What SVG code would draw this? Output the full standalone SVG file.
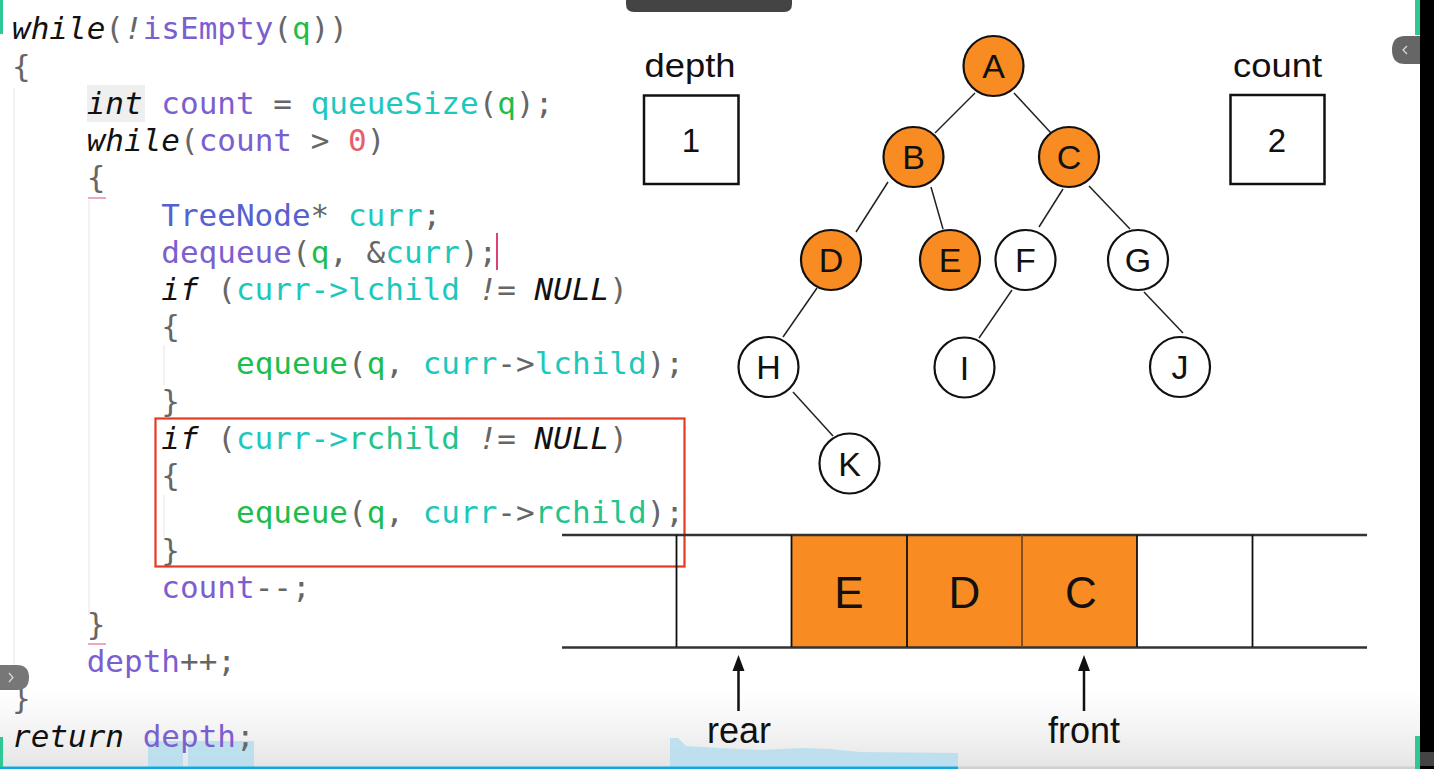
<svg xmlns="http://www.w3.org/2000/svg" width="1434" height="769" viewBox="0 0 1434 769">
<style>
.c{font-family:"DejaVu Sans Mono",monospace;font-size:31px;fill:#666;white-space:pre}
.k{fill:#111;font-style:italic}
.v{fill:#7b5fd0}
.t{fill:#1cc8bd}
.g{fill:#1dbd4c}
.r{fill:#e4606c}
.ty{fill:#5661d0}
.rc{fill:#22c48d}
.pi{font-style:italic}
.lbl{font-family:"Liberation Sans",Arial,sans-serif;fill:#111;text-anchor:middle}
.node circle{stroke:#111;stroke-width:2.2}
.node text{font-family:"Liberation Sans",Arial,sans-serif;font-size:34px;fill:#111;text-anchor:middle}
.or{fill:#f88b22}
.wh{fill:#fff}
.edge{stroke:#222;stroke-width:1.5;fill:none}
.guide{stroke:#e4e4e4;stroke-width:1}
</style>
<defs>
<linearGradient id="fade" x1="0" y1="0" x2="0" y2="1">
<stop offset="0" stop-color="#ececec" stop-opacity="0"/>
<stop offset="1" stop-color="#e4e4e4" stop-opacity="1"/>
</linearGradient>
</defs>
<rect width="1434" height="769" fill="#fff"/>

<!-- bottom video overlay (behind content) -->
<rect x="0" y="690" width="1420" height="79" fill="url(#fade)"/>
<g fill="#b9dfee" opacity="0.9">
<rect x="148" y="741" width="35" height="26"/>
<rect x="188" y="741" width="66" height="26"/>
<path d="M670,767 L670,738 L678,738 L686,746 L720,748 L760,750 L800,748 L830,749 L860,752 L958,753 L958,767 Z"/>
</g>
<rect x="0" y="766.5" width="958" height="2.5" fill="#12a8de"/>
<rect x="958" y="766.5" width="462" height="2.5" fill="#d0d0d0"/>

<!-- indent guides -->
<g id="guides">
<line class="guide" x1="14" y1="88" x2="14" y2="690"/>
<line class="guide" x1="89" y1="200" x2="89" y2="615"/>
<line class="guide" x1="164" y1="345" x2="164" y2="385"/>
<line class="guide" x1="164" y1="495" x2="164" y2="540"/>
</g>

<!-- code -->
<g id="code">
<rect x="87" y="85" width="58" height="37" fill="#efefef"/>
<text class="c" x="12" y="39.3"><tspan class="k">while</tspan>(<tspan class="pi">!</tspan><tspan class="v">isEmpty</tspan>(<tspan class="g">q</tspan>))</text>
<text class="c" x="12" y="76.5">{</text>
<text class="c" x="86.7" y="113.8"><tspan class="k">int</tspan> <tspan class="v">count</tspan> = <tspan class="t">queueSize</tspan>(<tspan class="g">q</tspan>);</text>
<text class="c" x="86.7" y="151"><tspan class="k">while</tspan>(<tspan class="v">count</tspan> &gt; <tspan class="r">0</tspan>)</text>
<text class="c" x="86.7" y="188.2">{</text>
<line x1="88" y1="198" x2="106" y2="198" stroke="#e48aa8" stroke-width="1.5"/>
<text class="c" x="161.3" y="225.5"><tspan class="ty">TreeNode</tspan>* <tspan class="t">curr</tspan>;</text>
<text class="c" x="161.3" y="262.7"><tspan class="v">dequeue</tspan>(<tspan class="g">q</tspan>, &amp;<tspan class="t">curr</tspan>);</text>
<line x1="497" y1="233" x2="497" y2="270" stroke="#e0407a" stroke-width="2"/>
<text class="c" x="161.3" y="299.9"><tspan class="k">if</tspan> (<tspan class="t">curr-&gt;lchild</tspan> <tspan class="pi">!=</tspan> <tspan class="k">NULL</tspan>)</text>
<text class="c" x="161.3" y="337.1">{</text>
<text class="c" x="236" y="374.4"><tspan class="g">equeue</tspan>(<tspan class="g">q</tspan>, <tspan class="t">curr</tspan>-&gt;<tspan class="t">lchild</tspan>);</text>
<text class="c" x="161.3" y="411.6">}</text>
<text class="c" x="161.3" y="448.8"><tspan class="k">if</tspan> (<tspan class="t">curr-&gt;</tspan><tspan class="rc">rchild</tspan> <tspan class="pi">!=</tspan> <tspan class="k">NULL</tspan>)</text>
<text class="c" x="161.3" y="486.1">{</text>
<text class="c" x="236" y="523.3"><tspan class="g">equeue</tspan>(<tspan class="g">q</tspan>, <tspan class="t">curr</tspan>-&gt;<tspan class="rc">rchild</tspan>);</text>
<text class="c" x="161.3" y="560.5">}</text>
<text class="c" x="161.3" y="597.8"><tspan class="v">count</tspan>--;</text>
<text class="c" x="86.7" y="635">}</text>
<line x1="88" y1="644" x2="106" y2="644" stroke="#e48aa8" stroke-width="1.5"/>
<text class="c" x="86.7" y="672.2"><tspan class="v">depth</tspan><tspan class="pi">++</tspan>;</text>
<text class="c" x="12" y="709.4">}</text>
<text class="c" x="12" y="746.7"><tspan class="k">return</tspan> <tspan class="v">depth</tspan>;</text>
</g>

<!-- highlight box -->
<rect id="highlight" x="155.5" y="418.5" width="529" height="148" fill="none" stroke="#e53a22" stroke-width="2.2"/>

<!-- depth / count -->
<g id="depth">
<text class="lbl" x="690" y="77" font-size="34" textLength="91" lengthAdjust="spacingAndGlyphs">depth</text>
<rect x="644" y="95.5" width="94.5" height="88.5" fill="#fff" stroke="#111" stroke-width="2.5"/>
<text class="lbl" x="691" y="152" font-size="33">1</text>
</g>
<g id="count">
<text class="lbl" x="1277.5" y="77" font-size="34" textLength="89" lengthAdjust="spacingAndGlyphs">count</text>
<rect x="1230.5" y="95" width="94" height="89" fill="#fff" stroke="#111" stroke-width="2.5"/>
<text class="lbl" x="1277" y="152" font-size="33">2</text>
</g>

<!-- tree connectors -->
<g id="edges">
<line class="edge" x1="975" y1="93" x2="935" y2="133"/>
<line class="edge" x1="1014" y1="93" x2="1051" y2="133"/>
<line class="edge" x1="888" y1="182" x2="856" y2="232"/>
<line class="edge" x1="931" y1="187" x2="943" y2="229"/>
<line class="edge" x1="1063" y1="189" x2="1039" y2="227"/>
<line class="edge" x1="1089" y1="186" x2="1130" y2="229"/>
<line class="edge" x1="817" y1="288" x2="783" y2="337"/>
<line class="edge" x1="1012" y1="290" x2="979" y2="338"/>
<line class="edge" x1="1144" y1="292" x2="1183" y2="333"/>
<line class="edge" x1="793" y1="392" x2="833" y2="436"/>
</g>

<!-- tree nodes -->
<g id="nA" class="node"><circle class="or" cx="993.5" cy="66" r="30"/><text x="993.5" y="78">A</text></g>
<g id="nB" class="node"><circle class="or" cx="913.5" cy="157" r="30"/><text x="913.5" y="169">B</text></g>
<g id="nC" class="node"><circle class="or" cx="1069" cy="157" r="30"/><text x="1069" y="169">C</text></g>
<g id="nD" class="node"><circle class="or" cx="831" cy="260" r="30"/><text x="831" y="272">D</text></g>
<g id="nE" class="node"><circle class="or" cx="950" cy="260" r="30"/><text x="950" y="272">E</text></g>
<g id="nF" class="node"><circle class="wh" cx="1025.5" cy="260" r="30"/><text x="1025.5" y="272">F</text></g>
<g id="nG" class="node"><circle class="wh" cx="1138" cy="260" r="30"/><text x="1138" y="272">G</text></g>
<g id="nH" class="node"><circle class="wh" cx="768.5" cy="367" r="30"/><text x="768.5" y="379">H</text></g>
<g id="nI" class="node"><circle class="wh" cx="964.5" cy="367.5" r="30"/><text x="964.5" y="379.5">I</text></g>
<g id="nJ" class="node"><circle class="wh" cx="1180" cy="367" r="30"/><text x="1180" y="379">J</text></g>
<g id="nK" class="node"><circle class="wh" cx="849.5" cy="463.5" r="30"/><text x="849.5" y="475.5">K</text></g>

<!-- queue -->
<g id="queue">
<rect x="791.5" y="535" width="345.5" height="112" fill="#f88b22"/>
<line x1="562" y1="535" x2="1367" y2="535" stroke="#333" stroke-width="2.5"/>
<line x1="562" y1="647.5" x2="1367" y2="647.5" stroke="#333" stroke-width="2.5"/>
<g stroke="#111" stroke-width="1.8">
<line x1="676.5" y1="535" x2="676.5" y2="647"/>
<line x1="791.5" y1="535" x2="791.5" y2="647"/>
<line x1="907" y1="535" x2="907" y2="647"/>
<line x1="1022" y1="535" x2="1022" y2="647" stroke="#7a4a1a"/>
<line x1="1137" y1="535" x2="1137" y2="647"/>
<line x1="1252.5" y1="535" x2="1252.5" y2="647"/>
</g>
<text class="lbl" x="849" y="607.5" font-size="44">E</text>
<text class="lbl" x="964.5" y="607.5" font-size="44">D</text>
<text class="lbl" x="1081" y="607.5" font-size="44">C</text>
</g>

<!-- pointers -->
<g id="rear">
<line x1="738.5" y1="711" x2="738.5" y2="668" stroke="#111" stroke-width="2.5"/>
<polygon points="738.5,655 732.5,671 744.5,671" fill="#111"/>
<text class="lbl" x="739" y="743" font-size="36">rear</text>
</g>
<g id="front">
<line x1="1084" y1="711" x2="1084" y2="668" stroke="#111" stroke-width="2.5"/>
<polygon points="1084,655 1078,671 1090,671" fill="#111"/>
<text class="lbl" x="1084" y="743" font-size="36">front</text>
</g>

<!-- player chrome -->
<path d="M626,0 H792 V4 Q792,12 784,12 H634 Q626,12 626,4 Z" fill="#444"/>
<rect x="0" y="0" width="3" height="34" fill="#2dc895"/>
<rect x="0" y="737" width="3" height="30" fill="#2dc895"/>
<path d="M0,665 H17 Q29,665 29,677.5 Q29,690 17,690 H0 Z" fill="#777"/>
<path d="M9,673 L13,677.5 L9,682" stroke="#ddd" stroke-width="1.2" fill="none"/>
<rect x="1420" y="0" width="14" height="769" fill="#000"/>
<rect x="1415" y="0" width="5" height="35" fill="#2dc895"/>
<rect x="1415" y="736" width="5" height="33" fill="#2dc895"/>
<rect x="1420" y="752" width="14" height="14" fill="#444"/>
<path d="M1420,36 H1405 Q1392,36 1392,50 Q1392,64 1405,64 H1420 Z" fill="#666"/>
<path d="M1407,46 L1403,50 L1407,54" stroke="#ddd" stroke-width="1.2" fill="none"/>
</svg>
